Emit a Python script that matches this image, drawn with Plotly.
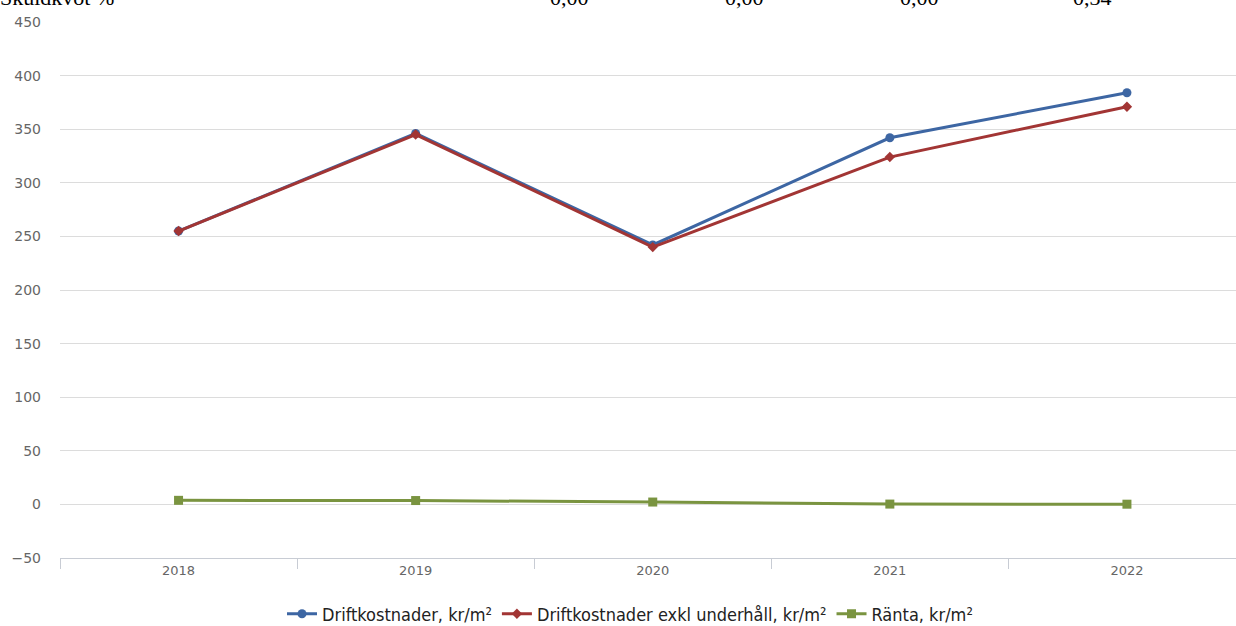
import plotly.graph_objects as go

years = ["2018", "2019", "2020", "2021", "2022"]
drift = [255, 346, 242, 342, 384]
drift_exkl = [255, 345, 240, 324, 371]
ranta = [3.8, 3.6, 2.2, 0.3, 0.2]

top_label = "Skuldkvot %"
top_values = ["0,00", "0,00", "0,00", "0,34"]
top_value_x = [569, 744, 919, 1092]  # pixel centers in the page

W, H = 1236, 626
ML, MR, MT, MB = 60, 0, 22, 68
pw = W - ML - MR
ph = H - MT - MB

fig = go.Figure()
fig.add_trace(go.Scatter(x=years, y=drift, name="Driftkostnader, kr/m²", mode="lines+markers",
                         line=dict(color="#3d66a3", width=3), marker=dict(symbol="circle", size=9, color="#3d66a3")))
fig.add_trace(go.Scatter(x=years, y=drift_exkl, name="Driftkostnader exkl underhåll, kr/m²", mode="lines+markers",
                         line=dict(color="#a23534", width=3), marker=dict(symbol="diamond", size=8, color="#a23534")))
fig.add_trace(go.Scatter(x=years, y=ranta, name="Ränta, kr/m²", mode="lines+markers",
                         line=dict(color="#7a9440", width=3), marker=dict(symbol="square", size=9, color="#7a9440")))

annotations = [dict(text=top_label, x=0, xref="paper", xanchor="left", xshift=-ML - 2,
                    y=(ph + 10) / ph, yref="paper", yanchor="bottom", showarrow=False,
                    font=dict(family="Liberation Serif", size=22, color="#000"))]
for v, px in zip(top_values, top_value_x):
    annotations.append(dict(text=v, x=(px - ML) / pw, xref="paper", xanchor="center",
                            y=(ph + 10) / ph, yref="paper", yanchor="bottom", showarrow=False,
                            font=dict(family="Liberation Serif", size=22, color="#000")))

fig.update_layout(
    width=W, height=H,
    margin=dict(l=ML, r=MR, t=MT, b=MB, autoexpand=False),
    paper_bgcolor="white", plot_bgcolor="white",
    showlegend=True,
    legend=dict(orientation="h", x=(630 - ML) / pw, xanchor="center", y=(558 - 614) / ph, yanchor="middle",
                font=dict(family="DejaVu Sans Condensed, DejaVu Sans", size=18, color="#222"),
                itemwidth=30, tracegroupgap=0),
    annotations=annotations,
    xaxis=dict(type="category", range=[-0.5, 4.46], showgrid=False, showline=True, linecolor="#c8ccd4",
               ticks="outside", tickson="boundaries", ticklen=10, tickcolor="#c8ccd4", automargin=False,
               tickfont=dict(family="DejaVu Sans", size=13, color="#666"), fixedrange=True),
    yaxis=dict(range=[-50, 450], dtick=50, showgrid=True, gridcolor="#dcdcdc", gridwidth=1,
               zeroline=True, zerolinecolor="#dcdcdc", zerolinewidth=1, showline=False, automargin=False,
               tickfont=dict(family="DejaVu Sans", size=14, color="#666"), ticklabelstandoff=18,
               tickformat="d"),
)

fig.write_html("out.html", config={"displayModeBar": False},
               post_script="document.body.style.margin='0';document.body.style.overflow='hidden';")
